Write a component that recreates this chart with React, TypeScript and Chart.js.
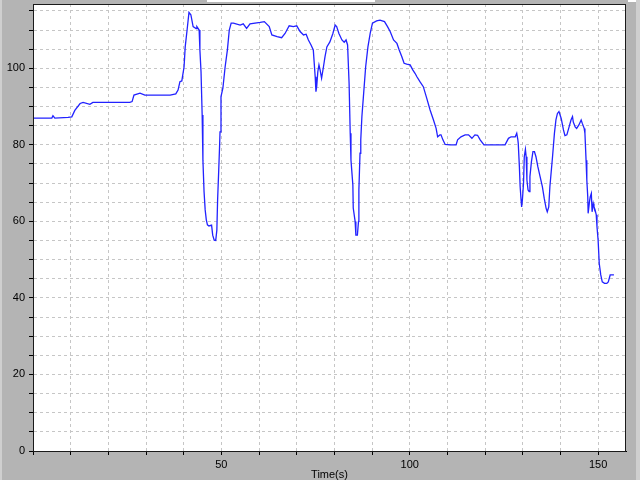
import { useEffect, useRef } from "react";
import { Chart, registerables } from "chart.js";

Chart.register(...registerables);

const times = [
  0.0, 5.0, 5.3, 5.8, 9.3, 10.3, 11.1, 12.5, 13.3, 15.1, 15.9, 25.7, 26.3, 26.8, 28.4, 29.7,
  36.4, 37.9, 38.5, 39.0, 39.5, 40.1, 40.4, 40.9, 41.4, 41.9, 42.5, 43.3, 43.5, 44.1, 44.3,
  44.6, 44.9, 45.1, 45.4, 45.7, 46.0, 46.3, 46.7, 47.4, 47.7, 48.1, 48.5, 48.8, 49.0, 49.3,
  49.5, 49.64, 49.9, 50.4, 51.0, 51.6, 52.1, 52.6, 53.2, 55.0, 55.8, 56.7, 57.6, 60.3, 61.4,
  62.7, 63.4, 64.8, 66.0, 66.9, 68.0, 69.1, 70.0, 70.9, 71.8, 72.5, 73.1, 73.8, 74.4, 74.9,
  75.1, 75.3, 75.6, 75.9, 76.2, 76.6, 77.1, 77.5, 78.0, 78.8, 79.6, 80.2, 80.6, 81.2, 82.0,
  82.6, 83.1, 83.5, 83.9, 84.2, 84.4, 84.9, 85.0, 85.5, 85.7, 86.1, 86.4, 86.5, 86.8, 87.0,
  87.3, 87.7, 88.3, 88.9, 89.5, 90.1, 91.2, 92.1, 93.3, 94.1, 94.8, 95.7, 96.6, 97.2, 97.9,
  98.5, 99.2, 100.1, 100.8, 101.4, 101.9, 102.7, 103.6, 104.5, 105.4, 106.3, 107.0, 107.4,
  108.0, 108.3, 108.8, 109.4, 110.7, 112.3, 112.7, 113.6, 114.7, 115.6, 116.5, 117.3, 118.0,
  118.7, 119.7, 125.3, 126.2, 126.9, 128.0, 128.4, 128.7, 128.8, 129.1, 129.3, 129.55, 129.7,
  129.9, 130.2, 130.4, 130.7, 130.9, 131.1, 131.4, 131.7, 131.9, 132.3, 132.7, 133.1, 133.5,
  134.0, 134.6, 135.2, 135.7, 136.2, 136.5, 136.9, 137.2, 137.9, 138.4, 138.8, 139.2, 139.6,
  139.9, 140.2, 140.8, 141.2, 141.7, 142.3, 142.8, 143.2, 143.4, 143.9, 144.3, 144.9, 145.5,
  145.8, 146.3, 146.5, 146.8, 147.0, 147.25, 147.35, 147.7, 147.9, 148.2, 148.4, 148.7, 148.9,
  149.2, 149.5, 149.7, 150.0, 150.3, 150.7, 151.1, 151.7, 152.3, 152.7, 153.2, 154.2,
];

const values = [
  87.0, 87.0, 87.6, 87.0, 87.2, 87.3, 89.0, 90.8, 91.1, 90.6, 91.1, 91.1, 91.3, 93.0, 93.5, 93.0,
  93.0, 93.3, 94.3, 96.5, 96.7, 100.4, 105.6, 110.0, 114.6, 114.0, 110.9, 110.4, 110.9, 110.0, 104.8,
  99.1, 87.8, 76.0, 67.8, 63.0, 60.4, 59.1, 58.8, 59.0, 56.4, 55.1, 55.0, 57.7, 65.6, 73.4,
  79.0, 83.4, 92.6, 94.8, 100.4, 104.8, 110.0, 111.8, 111.8, 111.3, 111.6, 110.4, 111.6, 112.0, 112.2,
  110.9, 108.7, 108.3, 108.0, 109.1, 111.1, 110.9, 111.1, 109.6, 108.7, 108.9, 107.4, 106.1, 104.8, 97.8,
  93.9, 95.2, 99.1, 100.9, 99.6, 97.4, 100.4, 103.0, 105.6, 106.9, 109.1, 111.3, 110.9, 109.1, 107.4,
  106.8, 107.4, 106.1, 96.1, 83.0, 76.0, 69.5, 63.5, 60.0, 56.4, 56.4, 60.0, 68.2, 77.8, 81.3,
  87.4, 92.6, 100.4, 105.6, 109.1, 111.8, 112.4, 112.6, 112.2, 110.9, 109.6, 107.4, 106.5, 104.8, 103.0,
  101.3, 101.1, 100.9, 99.6, 98.7, 97.8, 96.5, 95.2, 92.2, 89.1, 86.5, 84.3, 82.1,
  82.6, 82.6, 81.3, 80.1, 80.0, 80.0, 81.3, 82.1, 82.6, 82.6, 81.7, 82.6, 82.5,
  81.3, 80.0, 80.0, 81.7, 82.1, 82.1, 83.0, 81.3, 80.4, 74.3, 69.1, 65.6, 63.8,
  65.6, 70.0, 76.9, 78.8, 76.9, 70.8, 68.2, 67.8, 71.7, 75.6, 78.2, 78.2, 76.9,
  74.3, 71.7, 69.1, 66.0, 63.4, 62.5, 63.8, 69.1, 76.9, 83.0, 86.5, 88.2, 88.7,
  87.8, 86.9, 83.9, 82.4, 82.6, 84.7, 86.5, 87.4, 86.0, 84.7, 84.3, 85.2, 86.5,
  85.6, 84.3, 83.0, 76.0, 70.8, 66.4, 62.1, 65.1, 66.4, 67.3, 62.5, 64.7, 63.8,
  63.0, 61.7, 58.6, 55.1, 49.0, 46.0, 44.2, 43.8, 43.8, 44.2, 46.0, 46.0,
];

const xTickLabels = [50, 100, 150];
const yTickLabels = [0, 20, 40, 60, 80, 100];
const xAxisTitle = "Time(s)";

const FONT = "'Liberation Sans', Arial, sans-serif";

export default function App() {
  const ref = useRef<HTMLCanvasElement>(null);

  useEffect(() => {
    const canvas = ref.current;
    if (!canvas) return;

    const framePlugin = {
      id: "frame",
      beforeDraw(chart: any) {
        const { ctx, chartArea: a, width, height } = chart;
        ctx.save();
        ctx.fillStyle = "#b4b4b4";
        ctx.fillRect(0, 0, width, height);
        // bits of neighbouring window chrome
        ctx.fillStyle = "#ffffff";
        ctx.fillRect(207, 0, 168, 2);
        ctx.fillRect(628, 0, 12, 2);
        ctx.fillStyle = "#cfcfcf";
        ctx.fillRect(636, 0, 4, height);
        ctx.fillRect(0, 0, 2, height);
        ctx.fillStyle = "#ffffff";
        ctx.fillRect(a.left, a.top, a.right - a.left, a.bottom - a.top);
        ctx.restore();
      },
      afterDraw(chart: any) {
        const { ctx, chartArea: a } = chart;
        ctx.save();
        ctx.strokeStyle = "#1a1a1a";
        ctx.lineWidth = 1;
        ctx.strokeRect(a.left + 0.5, a.top + 0.5, a.right - a.left - 1, a.bottom - a.top);
        ctx.restore();
      },
    };

    const isLabel = (v: number, list: number[]) => list.some((l) => Math.abs(l - v) < 1e-6);

    const chart = new Chart(canvas, {
      type: "line",
      data: {
        datasets: [
          {
            data: times.map((t, i) => ({ x: t, y: values[i] })),
            borderColor: "#2222ff",
            borderWidth: 1.3,
            pointRadius: 0,
            tension: 0,
            fill: false,
          },
        ],
      },
      options: {
        animation: false,
        responsive: false,
        devicePixelRatio: 1,
        layout: { padding: { top: 4, right: 14, bottom: 0, left: 0 } },
        plugins: { legend: { display: false }, tooltip: { enabled: false } },
        scales: {
          x: {
            type: "linear",
            min: 0,
            max: 157.4,
            afterFit: (s: any) => {
              s.height = 29;
              s.paddingLeft = 0;
              s.paddingRight = 0;
            },
            ticks: {
              stepSize: 10,
              autoSkip: false,
              maxRotation: 0,
              includeBounds: false,
              padding: 3,
              color: "#000",
              font: { family: FONT, size: 11 },
              callback: (v: any) => (isLabel(Number(v), xTickLabels) ? String(v) : ""),
            },
            grid: { color: "#c6c6c6", tickColor: "#000", tickLength: 4, lineWidth: 1 },
            border: { display: true, color: "#000", dash: [3, 3] },
            title: {
              display: true,
              text: xAxisTitle,
              color: "#000",
              font: { family: FONT, size: 11, lineHeight: 1.2 },
              padding: { top: 0, bottom: -2 },
            },
          },
          y: {
            type: "linear",
            min: 0,
            max: 116.8,
            afterFit: (s: any) => {
              s.width = 33;
              s.paddingTop = 0;
              s.paddingBottom = 0;
            },
            ticks: {
              stepSize: 5,
              autoSkip: false,
              includeBounds: false,
              padding: 4,
              color: "#000",
              font: { family: FONT, size: 11 },
              callback: (v: any) => (isLabel(Number(v), yTickLabels) ? String(v) : ""),
            },
            grid: { color: "#c6c6c6", tickColor: "#000", tickLength: 4, lineWidth: 1 },
            border: { display: true, color: "#000", dash: [3, 3] },
          },
        },
      },
      plugins: [framePlugin],
    } as any);

    return () => chart.destroy();
  }, []);

  return (
    <div style={{ position: "fixed", left: 0, top: 0, width: 640, height: 480 }}>
      <canvas ref={ref} width={640} height={480} style={{ display: "block" }} />
    </div>
  );
}
